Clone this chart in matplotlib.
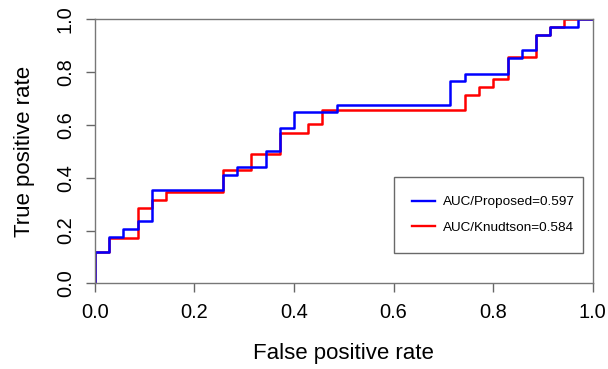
import matplotlib
matplotlib.use("Agg")
import matplotlib.pyplot as plt

plt.rcParams['font.family'] = ['Liberation Sans', 'DejaVu Sans']

# ROC step points (FPR, TPR)
fpr_proposed = [0, 0, 0.029, 0.057, 0.086, 0.114, 0.257, 0.286, 0.343, 0.371, 0.400,
                0.486, 0.714, 0.743, 0.829, 0.857, 0.886, 0.914, 0.971, 1.0]
tpr_proposed = [0, 0.118, 0.176, 0.206, 0.235, 0.353, 0.412, 0.441, 0.500, 0.588, 0.647,
                0.676, 0.765, 0.794, 0.853, 0.882, 0.941, 0.971, 1.0, 1.0]

fpr_knudtson = [0, 0, 0.029, 0.086, 0.114, 0.143, 0.257, 0.314, 0.371, 0.429, 0.457,
                0.743, 0.771, 0.800, 0.829, 0.886, 0.914, 0.943, 1.0]
tpr_knudtson = [0, 0.118, 0.171, 0.285, 0.315, 0.345, 0.429, 0.489, 0.570, 0.603, 0.657,
                0.713, 0.742, 0.773, 0.858, 0.940, 0.970, 1.0, 1.0]

label_proposed = "AUC/Proposed=0.597"
label_knudtson = "AUC/Knudtson=0.584"
ticks = [0.0, 0.2, 0.4, 0.6, 0.8, 1.0]
tick_labels = ["0.0", "0.2", "0.4", "0.6", "0.8", "1.0"]

fig = plt.figure(figsize=(6.08, 3.69), dpi=100)
ax = fig.add_axes([0.156, 0.232, 0.819, 0.716])

l2, = ax.plot(fpr_knudtson, tpr_knudtson, drawstyle='steps-post', color='#ff0000', lw=1.8)
l1, = ax.plot(fpr_proposed, tpr_proposed, drawstyle='steps-post', color='#0000ff', lw=1.8)

ax.set_xlim(0, 1)
ax.set_ylim(0, 1)
ax.set_xticks(ticks)
ax.set_xticklabels(tick_labels)
ax.set_yticks(ticks)
ax.set_yticklabels(tick_labels, rotation=90, va='center')
ax.tick_params(axis='both', direction='out', length=6.3, width=1, color='#666666',
               labelsize=14.4, pad=8)
for s in ax.spines.values():
    s.set_color('#777777')
    s.set_linewidth(1)

ax.set_xlabel("False positive rate", fontsize=16, labelpad=15)
ax.set_ylabel("True positive rate", fontsize=16, labelpad=15)

leg = ax.legend([l1, l2], [label_proposed, label_knudtson], loc='lower left',
                bbox_to_anchor=(0.600, 0.115, 0.380, 0.288), mode='expand',
                fontsize=9.7, frameon=True, fancybox=False, handlelength=1.7,
                handletextpad=0.6, labelspacing=1.0,
                borderpad=1.4, borderaxespad=0)
leg.get_frame().set_edgecolor('#444444')
leg.get_frame().set_linewidth(1)
for h in leg.legend_handles:
    h.set_linewidth(1.7)

fig.savefig("out.png", dpi=100)
